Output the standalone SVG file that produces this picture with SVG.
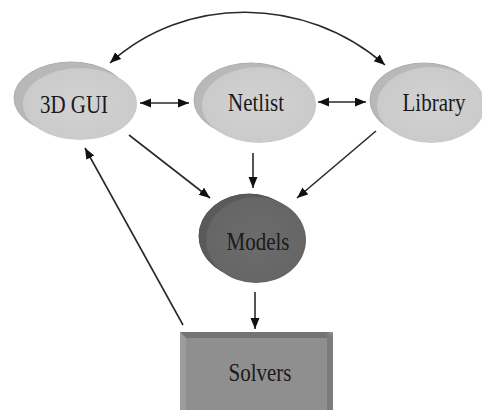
<svg xmlns="http://www.w3.org/2000/svg" width="482" height="410" viewBox="0 0 482 410">
<style>
.rim{fill:#b8b8b8;stroke:#adadad;stroke-width:1}
.face{fill:url(#gl)}
.rimd{fill:#5a5a5a;stroke:#525252;stroke-width:1}
.faced{fill:url(#gd)}
.lbl{font-family:"Liberation Serif","Times New Roman",serif;font-size:21px;fill:#1a1a1a;text-anchor:middle}
.edge{fill:none;stroke:#2a2a2a;stroke-width:1.6}
</style>
<defs>
<radialGradient id="gl" cx="0.5" cy="0.5" r="0.6">
<stop offset="0" stop-color="#d2d2d2"/>
<stop offset="0.8" stop-color="#cbcbcb"/>
<stop offset="1" stop-color="#c2c2c2"/>
</radialGradient>
<radialGradient id="gd" cx="0.5" cy="0.5" r="0.6">
<stop offset="0" stop-color="#6c6c6c"/>
<stop offset="0.8" stop-color="#666"/>
<stop offset="1" stop-color="#5e5e5e"/>
</radialGradient>
<marker id="ah" markerUnits="userSpaceOnUse" markerWidth="12" markerHeight="10" refX="11" refY="4.5" orient="auto-start-reverse">
<path d="M0,0 L11,4.5 L0,9 z" fill="#111"/>
</marker>
</defs>
<rect width="482" height="410" fill="#fff"/>
<g id="edges">
<path class="edge" d="M110,63 C185,-5 305,-5 385,65" marker-start="url(#ah)" marker-end="url(#ah)"/>
<path class="edge" d="M140,103 L189,103" marker-start="url(#ah)" marker-end="url(#ah)"/>
<path class="edge" d="M318,102 L366,102" marker-start="url(#ah)" marker-end="url(#ah)"/>
<path class="edge" d="M129,135 L210,198" marker-end="url(#ah)"/>
<path class="edge" d="M253,153 L253,188" marker-end="url(#ah)"/>
<path class="edge" d="M376,131 L297,198" marker-end="url(#ah)"/>
<path class="edge" d="M255,292 L255,329" marker-end="url(#ah)"/>
<path class="edge" d="M183,325 L85,148" marker-end="url(#ah)"/>
</g>
<g id="gui">
<ellipse class="rim" cx="71" cy="98" rx="57" ry="36"/>
<ellipse class="face" cx="80" cy="104" rx="57" ry="36"/>
<text class="lbl" transform="translate(74,112.5) scale(1,1.15)">3D GUI</text>
</g>
<g id="netlist">
<ellipse class="rim" cx="251" cy="100" rx="57" ry="37"/>
<ellipse class="face" cx="259" cy="105" rx="57" ry="38"/>
<text class="lbl" transform="translate(256,110.5) scale(1,1.15)">Netlist</text>
</g>
<g id="library">
<ellipse class="rim" cx="424" cy="100" rx="54" ry="37"/>
<ellipse class="face" cx="431" cy="105" rx="54" ry="38"/>
<text class="lbl" transform="translate(434,111) scale(1,1.15)">Library</text>
</g>
<g id="models">
<ellipse class="rimd" cx="249" cy="236" rx="50" ry="42"/>
<ellipse class="faced" cx="256" cy="240" rx="50" ry="43"/>
<text class="lbl" transform="translate(258,250) scale(1,1.15)">Models</text>
</g>
<g id="solvers">
<rect x="180" y="332" width="153" height="78" fill="#8a8a8a"/>
<polygon points="180,332 327,332 333,338 186,338" fill="#747474"/>
<polygon points="180,332 186,338 186,410 180,410" fill="#9c9c9c"/>
<polygon points="327,332 333,338 333,410 327,410" fill="#7c7c7c"/>
<rect x="186" y="338" width="141" height="72" fill="#8f8f8f"/>
<text class="lbl" transform="translate(260,381) scale(1,1.15)">Solvers</text>
</g>
</svg>
